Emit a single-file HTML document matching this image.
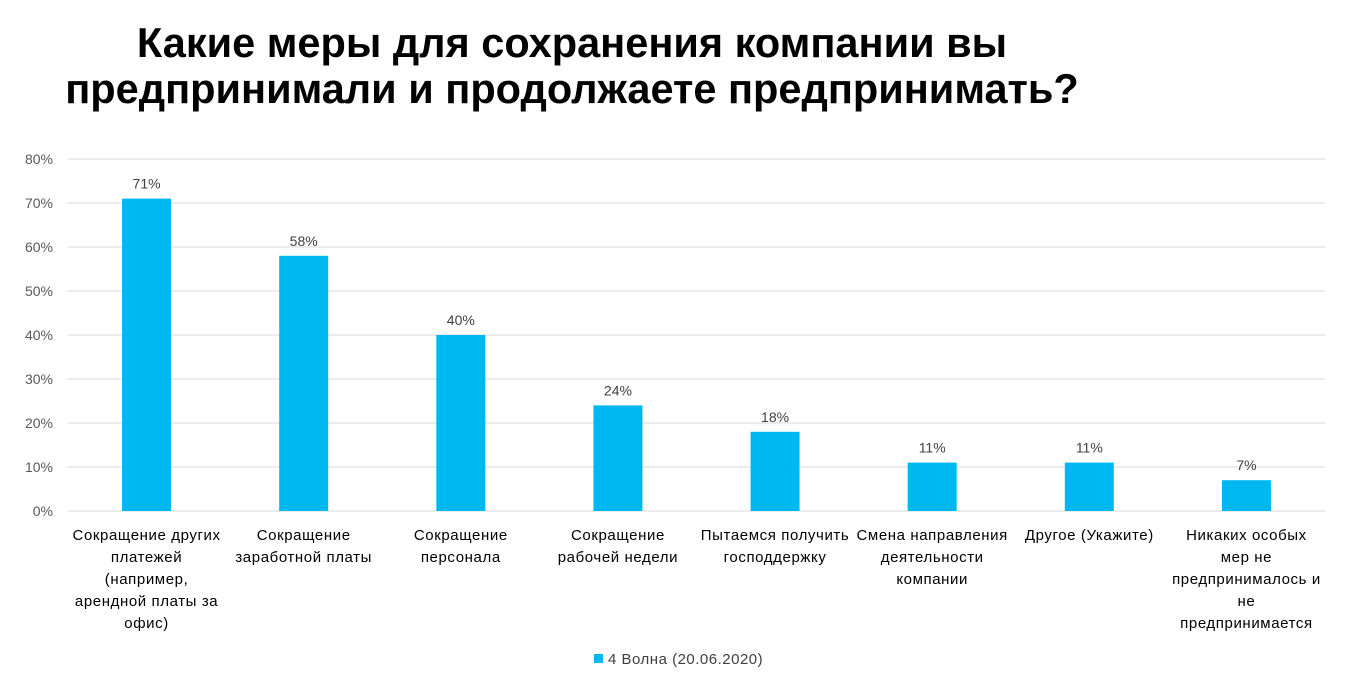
<!DOCTYPE html>
<html><head><meta charset="utf-8"><style>
body{margin:0;width:1365px;height:693px;background:#fff;overflow:hidden;font-family:"Liberation Sans",sans-serif}
#title{position:absolute;left:0;top:20px;width:1144px;text-align:center;font-weight:bold;font-size:41.5px;line-height:46px;color:#000}
svg{position:absolute;left:0;top:0}
</style></head><body>
<div id="title">Какие меры для сохранения компании вы<br>предпринимали и продолжаете предпринимать?</div>
<svg id="chart" width="1365" height="693"></svg>
<script>
const categories=[["Сокращение других","платежей","(например,","арендной платы за","офис)"],["Сокращение","заработной платы"],["Сокращение","персонала"],["Сокращение","рабочей недели"],["Пытаемся получить","господдержку"],["Смена направления","деятельности","компании"],["Другое (Укажите)"],["Никаких особых","мер не","предпринималось и","не","предпринимается"]];
const values=[71,58,40,24,18,11,11,7];
const yTicks=[0,10,20,30,40,50,60,70,80];
const ns="http://www.w3.org/2000/svg";
const svg=document.getElementById('chart');
const x0=68,x1=1325,y0=511,yTop=159,yMax=80;
const bw=(x1-x0)/values.length;
const y=v=>y0-(y0-yTop)*v/yMax;
const cx=i=>x0+bw*(i+0.5);
function mk(t,a){const e=document.createElementNS(ns,t);for(const k in a)e.setAttribute(k,a[k]);svg.appendChild(e);return e;}
yTicks.forEach(t=>{
 const l=mk('line',{x1:x0,x2:x1,y1:y(t),y2:y(t),stroke:'#d9d9d9','stroke-width':1});
 
 
 const tx=mk('text',{x:53,y:y(t)+5,'text-anchor':'end','font-size':14,fill:'#595959'});
 tx.textContent=t+'%';
 
 
});
values.forEach((v,i)=>{
 const r=mk('rect',{x:cx(i)-24.5,y:y(v),width:49,height:y0-y(v),fill:'#00b8f1'});
 
 
 const t=mk('text',{x:cx(i),y:y(v)-10,'text-anchor':'middle','font-size':14,fill:'#404040'});
 t.textContent=v+'%';
 
 
 const g=mk('text',{'text-anchor':'middle','font-size':15,'letter-spacing':0.6,fill:'#000'});
 
 
 categories[i].forEach((s,j)=>{const ts=document.createElementNS(ns,'tspan');ts.setAttribute('x',cx(i));ts.setAttribute('y',540+j*22);ts.textContent=s;g.appendChild(ts);});
});
const lg=mk('rect',{x:594,y:654,width:9,height:9,fill:'#00b8f1'});


const lt=mk('text',{x:608,y:664,'font-size':15,'letter-spacing':0.5,fill:'#404040'});
lt.textContent='4 Волна (20.06.2020)';


</script>
</body></html>
